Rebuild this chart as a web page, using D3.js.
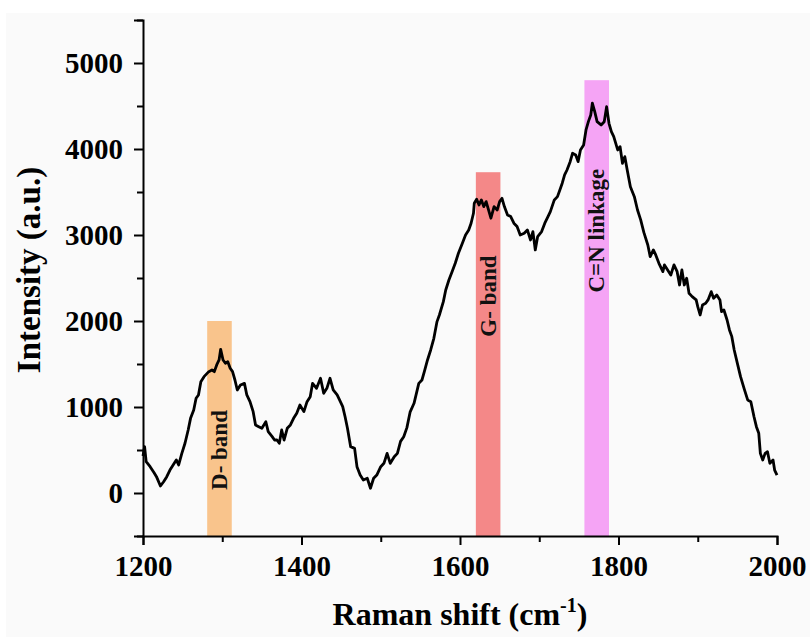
<!DOCTYPE html>
<html>
<head>
<meta charset="utf-8">
<script src="https://cdn.jsdelivr.net/npm/d3@7"></script>
<style>
  body { margin: 0; background: #fff; }
  svg { display: block; }
  text { font-family: "Liberation Serif", "Times New Roman", serif; font-weight: bold; }
</style>
</head>
<body>
<svg id="chart" width="810" height="637"></svg>
<script>
// Raman spectrum
const ramanShift = [1200,1202,1204,1209,1214,1217,1222,1226,1230,1234,1238,1242,1245,1249,1253,1257,1260,1264,1267,1270,
  1273,1277,1283,1287,1290,1293,1296,1298,1301,1304,1307,1310,1313,1316,1319,1323,1328,1331,1335,1339,
  1342,1346,1350,1355,1358,1363,1366,1369,1372,1375,1378,1382,1386,1390,1394,1398,1403,1407,1411,1414,
  1419,1424,1428,1432,1436,1440,1445,1448,1452,1455,1458,1462,1467,1470,1474,1478,1483,1487,1491,1495,
  1500,1504,1508,1512,1517,1521,1525,1529,1533,1537,1542,1545,1548,1552,1555,1559,1563,1567,1571,1574,
  1579,1582,1586,1590,1594,1598,1603,1607,1611,1614,1617,1618,1621,1624,1627,1630,1633,1636,1639,1643,
  1647,1650,1653,1656,1660,1664,1668,1672,1676,1681,1685,1689,1692,1695,1698,1703,1707,1711,1714,1719,
  1723,1726,1729,1732,1735,1739,1742,1746,1749,1752,1756,1759,1762,1765,1767,1770,1773,1778,1782,1785,
  1788,1791,1794,1799,1802,1805,1808,1811,1815,1820,1824,1828,1832,1837,1840,1844,1847,1851,1856,1858,
  1862,1866,1870,1874,1877,1880,1883,1886,1889,1893,1898,1900,1903,1906,1910,1913,1917,1920,1924,1928,
  1930,1933,1937,1940,1943,1946,1950,1954,1959,1963,1967,1971,1974,1977,1979,1982,1985,1988,1991,1995,
  1997,2000];
const intensity = [430,540,364,306,236,190,81,131,190,267,326,384,326,461,578,733,868,965,1101,1140,
  1295,1353,1411,1430,1411,1489,1547,1671,1547,1508,1527,1450,1411,1314,1198,1256,1275,1140,1062,946,
  791,771,752,829,713,655,616,616,578,733,616,752,791,868,927,1023,946,1062,1120,1275,
  1217,1334,1159,1217,1334,1198,1140,1082,1004,887,752,539,519,306,209,151,171,55,171,209,
  306,345,461,345,422,461,600,655,760,940,1043,1159,1275,1314,1411,1547,1663,1799,1993,2070,
  2225,2361,2477,2574,2671,2788,2904,3000,3059,3137,3253,3369,3415,3349,3408,3330,3388,3291,3195,3330,
  3291,3388,3427,3330,3233,3214,3137,3098,3000,3020,3059,2942,3040,2826,2982,3040,3137,3214,3272,3408,
  3446,3524,3602,3698,3756,3853,3950,3931,3853,3989,4047,4222,4318,4396,4532,4434,4318,4280,4318,4493,
  4299,4202,4144,3989,4027,3834,3911,3756,3562,3446,3291,3175,3030,2884,2748,2826,2768,2671,2574,2652,
  2594,2535,2652,2574,2419,2594,2419,2497,2323,2283,2245,2167,2070,2186,2206,2245,2341,2264,2303,2245,
  2109,2128,2012,1896,1818,1663,1508,1353,1198,1082,1062,887,771,694,461,384,461,480,345,384,
  267,209];

// highlighted bands
const bandLabels = ["D- band", "G- band", "C=N linkage"];
const bandFrom = [1281, 1620, 1757];
const bandTo = [1312, 1651, 1788];
const bandTop = [2000, 3730, 4800];
const bandLabelAt = [500, 2290, 3050];
const bandColors = ["#f9c48c", "#f48888", "#f5a4f5"];

const xTicks = [1200, 1300, 1400, 1500, 1600, 1700, 1800, 1900, 2000];
const yTicks = [-500, 0, 500, 1000, 1500, 2000, 2500, 3000, 3500, 4000, 4500, 5000, 5500];

const wSvg = 810, hSvg = 637;
const margin = {top: 20, right: 33, bottom: 101, left: 143};

const xScale = d3.scaleLinear([1200, 2000], [margin.left, wSvg - margin.right]);
const yScale = d3.scaleLinear([-500, 5500], [hSvg - margin.bottom, margin.top]);

const svg = d3.select("#chart");

// faint figure background
svg.append("rect")
  .attr("x", 6).attr("y", 13)
  .attr("width", wSvg - 6).attr("height", hSvg - 13)
  .attr("fill", "#fafafa");

// bands
bandLabels.forEach((lab, i) => {
  svg.append("rect")
    .attr("x", xScale(bandFrom[i]))
    .attr("y", yScale(bandTop[i]))
    .attr("width", xScale(bandTo[i]) - xScale(bandFrom[i]))
    .attr("height", yScale(-500) - yScale(bandTop[i]))
    .attr("fill", bandColors[i]);
});

// spectrum
const line = d3.line()
  .x((d, i) => xScale(ramanShift[i]))
  .y(d => yScale(d));

svg.append("path")
  .datum(intensity)
  .attr("d", line)
  .attr("fill", "none")
  .attr("stroke", "#000")
  .attr("stroke-width", 2.8)
  .attr("stroke-linejoin", "round");

// band labels
bandLabels.forEach((lab, i) => {
  const cx = xScale((bandFrom[i] + bandTo[i]) / 2);
  const cy = yScale(bandLabelAt[i]);
  svg.append("text")
    .attr("transform", `translate(${cx},${cy}) rotate(-90)`)
    .attr("text-anchor", "middle")
    .attr("dominant-baseline", "central")
    .attr("font-size", "23px")
    .attr("fill", "#111")
    .text(lab);
});

// axes
const xAxis = d3.axisBottom(xScale)
  .tickValues(xTicks)
  .tickSizeOuter(0)
  .tickSize(9)
  .tickPadding(10)
  .tickFormat(d => d % 200 === 0 ? d : "");

const yAxis = d3.axisLeft(yScale)
  .tickValues(yTicks)
  .tickSizeOuter(0)
  .tickSize(9)
  .tickPadding(11)
  .tickFormat(d => (d % 1000 === 0 && d >= 0) ? d : "");

const gx = svg.append("g")
  .attr("transform", `translate(0,${yScale(-500)})`)
  .call(xAxis);
gx.selectAll(".tick line")
  .attr("y2", d => d % 200 === 0 ? 9 : 6);

const gy = svg.append("g")
  .attr("transform", `translate(${xScale(1200)},0)`)
  .call(yAxis);
gy.selectAll(".tick line")
  .attr("x2", d => d % 1000 === 0 ? -9 : -6);

[gx, gy].forEach(g => {
  g.select(".domain").attr("stroke-width", 2);
  g.selectAll(".tick line").attr("stroke-width", 2);
  g.selectAll("text")
    .attr("font-size", "29px")
    .attr("font-family", "'Liberation Serif', serif")
    .attr("font-weight", "bold")
    .attr("fill", "#000");
});

// axis titles
svg.append("text")
  .attr("transform", `translate(40,270) rotate(-90)`)
  .attr("text-anchor", "middle")
  .attr("font-size", "33px")
  .text("Intensity (a.u.)");

const xt = svg.append("text")
  .attr("x", (xScale(1200) + xScale(2000)) / 2)
  .attr("y", 625)
  .attr("text-anchor", "middle")
  .attr("font-size", "32px");
xt.append("tspan").text("Raman shift (cm");
xt.append("tspan").attr("font-size", "20px").attr("dy", -13).text("-1");
xt.append("tspan").attr("dy", 13).text(")");
</script>
</body>
</html>
